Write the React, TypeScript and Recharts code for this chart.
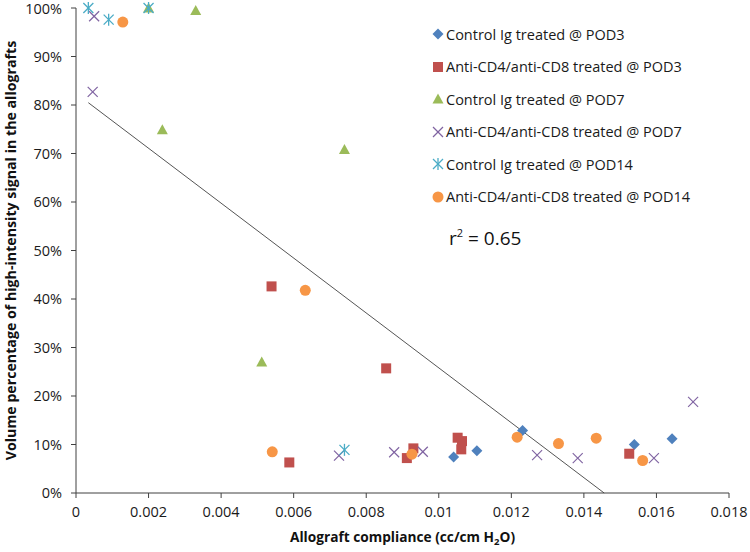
import { Label, Legend, ReferenceLine, Scatter, ScatterChart, XAxis, YAxis } from "recharts";

// x = allograft compliance (cc/cm H2O), y = volume fraction of high-intensity signal
const CONTROL_POD3 = [
  { x: 0.01041, y: 0.074 },
  { x: 0.01105, y: 0.087 },
  { x: 0.01231, y: 0.129 },
  { x: 0.01539, y: 0.1 },
  { x: 0.01643, y: 0.112 },
];

const ANTI_POD3 = [
  { x: 0.00539, y: 0.426 },
  { x: 0.00588, y: 0.063 },
  { x: 0.00855, y: 0.257 },
  { x: 0.00912, y: 0.072 },
  { x: 0.0093, y: 0.092 },
  { x: 0.01052, y: 0.114 },
  { x: 0.01064, y: 0.107 },
  { x: 0.01062, y: 0.09 },
  { x: 0.01525, y: 0.081 },
];

const CONTROL_POD7 = [
  { x: 0.002, y: 1.0 },
  { x: 0.0033, y: 0.995 },
  { x: 0.00238, y: 0.749 },
  { x: 0.00512, y: 0.27 },
  { x: 0.0074, y: 0.708 },
];

const ANTI_POD7 = [
  { x: 0.0005, y: 0.983 },
  { x: 0.00046, y: 0.827 },
  { x: 0.00725, y: 0.077 },
  { x: 0.00877, y: 0.084 },
  { x: 0.00956, y: 0.085 },
  { x: 0.01271, y: 0.078 },
  { x: 0.01383, y: 0.072 },
  { x: 0.01593, y: 0.072 },
  { x: 0.01701, y: 0.188 },
];

const CONTROL_POD14 = [
  { x: 0.00034, y: 1.0 },
  { x: 0.0009, y: 0.976 },
  { x: 0.002, y: 1.0 },
  { x: 0.0074, y: 0.089 },
];

const ANTI_POD14 = [
  { x: 0.00129, y: 0.971 },
  { x: 0.00541, y: 0.085 },
  { x: 0.00632, y: 0.418 },
  { x: 0.00926, y: 0.08 },
  { x: 0.01216, y: 0.115 },
  { x: 0.0133, y: 0.102 },
  { x: 0.01434, y: 0.113 },
  { x: 0.01562, y: 0.067 },
];

const X_TICKS = [0, 0.002, 0.004, 0.006, 0.008, 0.01, 0.012, 0.014, 0.016, 0.018];
const X_TICK_LABELS = ["0", "0.002", "0.004", "0.006", "0.008", "0.01", "0.012", "0.014", "0.016", "0.018"];
const Y_TICKS = [0, 0.1, 0.2, 0.3, 0.4, 0.5, 0.6, 0.7, 0.8, 0.9, 1];

// linear fit as drawn on the chart
const TREND_INTERCEPT = 0.824;
const TREND_SLOPE = -56.6;
const R_SQUARED = "0.65";

const FONT = "'Open Sans', 'Noto Sans', sans-serif";

type Kind = "diamond" | "square" | "triangle" | "x" | "asterisk" | "circle";

const SERIES: { name: string; data: { x: number; y: number }[]; color: string; kind: Kind }[] = [
  { name: "Control Ig treated @ POD3", data: CONTROL_POD3, color: "#4F81BD", kind: "diamond" },
  { name: "Anti-CD4/anti-CD8 treated @ POD3", data: ANTI_POD3, color: "#C0504D", kind: "square" },
  { name: "Control Ig treated @ POD7", data: CONTROL_POD7, color: "#9BBB59", kind: "triangle" },
  { name: "Anti-CD4/anti-CD8 treated @ POD7", data: ANTI_POD7, color: "#8064A2", kind: "x" },
  { name: "Control Ig treated @ POD14", data: CONTROL_POD14, color: "#4BACC6", kind: "asterisk" },
  { name: "Anti-CD4/anti-CD8 treated @ POD14", data: ANTI_POD14, color: "#F79646", kind: "circle" },
];

function marker(kind: Kind, cx: number, cy: number, color: string) {
  switch (kind) {
    case "diamond":
      return <polygon points={`${cx},${cy - 5.5} ${cx + 5.5},${cy} ${cx},${cy + 5.5} ${cx - 5.5},${cy}`} fill={color} />;
    case "square":
      return <rect x={cx - 5} y={cy - 5} width={10} height={10} fill={color} />;
    case "triangle":
      return <polygon points={`${cx},${cy - 5.5} ${cx + 5.5},${cy + 4.5} ${cx - 5.5},${cy + 4.5}`} fill={color} />;
    case "x":
      return (
        <g stroke={color} strokeWidth={1.2}>
          <line x1={cx - 5} y1={cy - 5} x2={cx + 5} y2={cy + 5} />
          <line x1={cx - 5} y1={cy + 5} x2={cx + 5} y2={cy - 5} />
        </g>
      );
    case "asterisk":
      return (
        <g stroke={color} strokeWidth={1.3}>
          <line x1={cx - 5} y1={cy - 5} x2={cx + 5} y2={cy + 5} />
          <line x1={cx - 5} y1={cy + 5} x2={cx + 5} y2={cy - 5} />
          <line x1={cx} y1={cy - 6} x2={cx} y2={cy + 6} />
        </g>
      );
    default:
      return <circle cx={cx} cy={cy} r={5.5} fill={color} />;
  }
}

function LegendBox() {
  return (
    <div style={{ fontFamily: FONT, fontSize: 14.5, color: "#1a1a1a" }}>
      {SERIES.map((s) => (
        <div key={s.name} style={{ height: 32.5, display: "flex", alignItems: "center", whiteSpace: "nowrap" }}>
          <svg width={14} height={14} style={{ marginRight: 1 }}>
            {marker(s.kind, 7, 7, s.color)}
          </svg>
          <span>{s.name}</span>
        </div>
      ))}
    </div>
  );
}

const trendStart = Math.min(...SERIES.flatMap((s) => s.data.map((d) => d.x)));
const trendEnd = -TREND_INTERCEPT / TREND_SLOPE;

export default function App() {
  return (
    <div style={{ position: "absolute", left: 0, top: 0, width: 750, height: 552, background: "#fff" }}>
      <ScatterChart width={750} height={552} margin={{ top: 8, right: 21, bottom: 0, left: 0 }}>
        <XAxis
          type="number"
          dataKey="x"
          domain={[0, 0.018]}
          ticks={X_TICKS}
          tickFormatter={(_v, i) => X_TICK_LABELS[i]}
          height={59}
          tickSize={5}
          tickMargin={9}
          stroke="#404040"
          tick={{ fill: "#1a1a1a", fontSize: 14.5, fontFamily: FONT }}
        >
          <Label
            content={({ viewBox }: any) => (
              <text
                x={viewBox.x + viewBox.width / 2}
                y={viewBox.y + 49}
                textAnchor="middle"
                fontFamily={FONT}
                fontWeight="bold"
                fontSize={13.7}
                fill="#111"
              >
                Allograft compliance (cc/cm H
                <tspan fontSize={9.5} dy={3}>2</tspan>
                <tspan dy={-3}>O)</tspan>
              </text>
            )}
          />
        </XAxis>
        <YAxis
          type="number"
          dataKey="y"
          domain={[0, 1]}
          ticks={Y_TICKS}
          tickFormatter={(v) => `${Math.round(v * 100)}%`}
          width={76}
          tickSize={5}
          tickMargin={9}
          stroke="#404040"
          tick={{ fill: "#1a1a1a", fontSize: 14.5, fontFamily: FONT }}
        >
          <Label
            content={({ viewBox }: any) => {
              const x = viewBox.x + 10.5;
              const y = viewBox.y + viewBox.height / 2;
              return (
                <text
                  x={x}
                  y={y}
                  transform={`rotate(-90, ${x}, ${y})`}
                  textAnchor="middle"
                  dominantBaseline="central"
                  fontFamily={FONT}
                  fontWeight="bold"
                  fontSize={14.2}
                  fill="#111"
                >
                  Volume percentage of high-intensity signal in the allografts
                </text>
              );
            }}
          />
        </YAxis>
        <ReferenceLine
          segment={[
            { x: trendStart, y: TREND_INTERCEPT + TREND_SLOPE * trendStart },
            { x: trendEnd, y: 0 },
          ]}
          stroke="#555"
          strokeWidth={1}
        />
        {SERIES.map((s) => (
          <Scatter
            key={s.name}
            name={s.name}
            data={s.data}
            fill={s.color}
            isAnimationActive={false}
            shape={(p: any) => marker(s.kind, p.cx, p.cy, s.color)}
          />
        ))}
        <Legend
          layout="horizontal"
          verticalAlign="middle"
          align="center"
          wrapperStyle={{ position: "absolute", top: 17.75, left: 431, width: 320 }}
          content={() => <LegendBox />}
        />
      </ScatterChart>
      <div
        style={{
          position: "absolute",
          left: 449,
          top: 229,
          fontFamily: FONT,
          fontSize: 19,
          lineHeight: "19px",
          color: "#111",
          whiteSpace: "nowrap",
        }}
      >
        r<span style={{ fontSize: 11, position: "relative", top: -8 }}>2</span> = {R_SQUARED}
      </div>
    </div>
  );
}
